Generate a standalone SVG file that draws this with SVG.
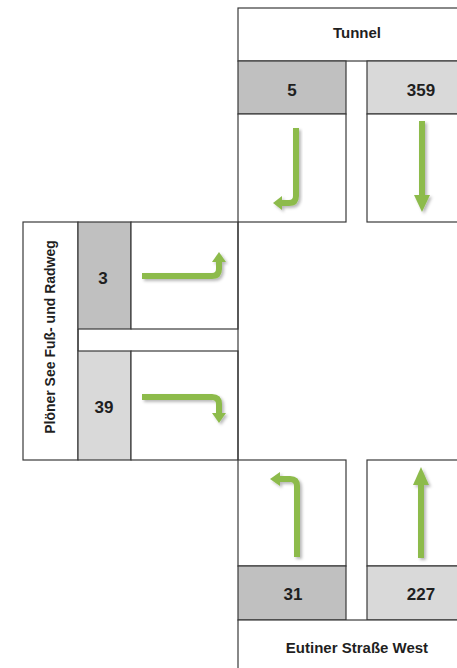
<svg xmlns="http://www.w3.org/2000/svg" width="457" height="668" viewBox="0 0 457 668">
<defs>
<style>
.cell{fill:#ffffff;stroke:#3a3a3a;stroke-width:1.2}
.dark{fill:#c0c0c0;stroke:#3a3a3a;stroke-width:1.2}
.light{fill:#d9d9d9;stroke:#3a3a3a;stroke-width:1.2}
.line{stroke:#3a3a3a;stroke-width:1.2;fill:none}
.lbl{font-family:"Liberation Sans",Arial,sans-serif;font-weight:bold;font-size:15px;fill:#1f1f1f;text-anchor:middle}
.num{font-family:"Liberation Sans",Arial,sans-serif;font-weight:bold;font-size:17px;fill:#1f1f1f;text-anchor:middle}
.shaft{fill:none;stroke:#8dbb4c;stroke-width:6}
.head{fill:#8dbb4c}
</style>
<filter id="sh" x="-30%" y="-30%" width="160%" height="160%">
<feDropShadow dx="2" dy="2" stdDeviation="1.8" flood-color="#000" flood-opacity="0.28"/>
</filter>
</defs>
<rect width="457" height="668" fill="#ffffff"/>

<g id="tunnel">
<rect class="cell" x="238" y="8" width="240" height="53"/>
<text class="lbl" x="357" y="38">Tunnel</text>
</g>
<g id="lane-5">
<rect class="dark" x="238" y="61" width="108" height="53"/>
<rect class="cell" x="238" y="114" width="108" height="108"/>
<text class="num" x="292" y="96">5</text>
</g>
<g id="lane-359">
<rect class="light" x="367" y="61" width="110" height="53"/>
<rect class="cell" x="367" y="114" width="110" height="108"/>
<text class="num" x="421" y="96">359</text>
</g>

<g id="ploener">
<rect class="cell" x="23" y="222" width="55" height="238"/>
<text class="lbl" style="font-size:14px" transform="translate(55,337) rotate(-90)">Plöner See Fuß- und Radweg</text>
</g>
<g id="lane-3">
<rect class="dark" x="78" y="222" width="53" height="107"/>
<rect class="cell" x="131" y="222" width="107" height="107"/>
<text class="num" x="103" y="284">3</text>
</g>
<g id="lane-39">
<rect class="light" x="78" y="351" width="53" height="109"/>
<rect class="cell" x="131" y="351" width="107" height="109"/>
<text class="num" x="104" y="413">39</text>
</g>

<g id="lane-31">
<rect class="cell" x="238" y="460" width="108" height="106"/>
<rect class="dark" x="238" y="566" width="108" height="54"/>
<text class="num" x="293" y="600">31</text>
</g>
<g id="lane-227">
<rect class="cell" x="367" y="460" width="110" height="106"/>
<rect class="light" x="367" y="566" width="110" height="54"/>
<text class="num" x="421" y="600">227</text>
</g>
<g id="eutiner">
<rect class="cell" x="238" y="620" width="240" height="60"/>
<text class="lbl" x="357" y="653">Eutiner Straße West</text>
</g>

<g id="connectors">
<line class="line" x1="238" y1="222" x2="238" y2="460"/>
<line class="line" x1="78" y1="329" x2="78" y2="351"/>
<g filter="url(#sh)">
<path class="shaft" d="M296,128 V196 Q296,203 289,203 H282"/>
<polygon class="head" points="282,196 273,203 282,210"/>
</g>
<g filter="url(#sh)">
<path class="shaft" d="M422,121 V196"/>
<polygon class="head" points="414,195 422,212 430,195"/>
</g>
<g filter="url(#sh)">
<path class="shaft" d="M142,276 H212 Q219,276 219,269 V262"/>
<polygon class="head" points="212,262 219,252 226,262"/>
</g>
<g filter="url(#sh)">
<path class="shaft" d="M142,397 H212 Q219,397 219,404 V413"/>
<polygon class="head" points="212,413 219,423 226,413"/>
</g>
<g filter="url(#sh)">
<path class="shaft" d="M297,557 V486 Q297,479 290,479 H280"/>
<polygon class="head" points="280,472 270,479 280,486"/>
</g>
<g filter="url(#sh)">
<path class="shaft" d="M421,558 V484"/>
<polygon class="head" points="413,485 421,467 429,485"/>
</g>
</g>
</svg>
